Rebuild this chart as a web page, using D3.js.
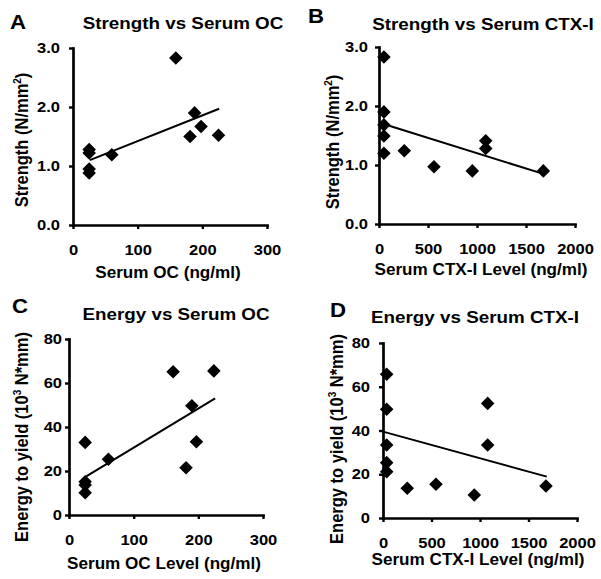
<!DOCTYPE html>
<html>
<head>
<meta charset="utf-8">
<script src="https://cdn.jsdelivr.net/npm/d3@7"></script>
<style>
  body { margin: 0; background: #fff; }
  svg text { font-family: "Liberation Sans", Arial, sans-serif; font-weight: bold; fill: #000; }
</style>
</head>
<body>
<svg id="chart" width="601" height="579"></svg>
<script>
// Panel A: strength vs serum OC
const ocA = [25, 25, 25, 25, 60, 159, 181, 188, 198, 225];
const strengthA = [1.28, 1.22, 0.95, 0.88, 1.19, 2.83, 1.50, 1.90, 1.67, 1.52];
const trendXA = [26, 226];
const trendYA = [1.10, 1.97];

// Panel B: strength vs serum CTX-I
const ctxB = [50, 50, 50, 50, 50, 258, 561, 952, 1089, 1089, 1677];
const strengthB = [2.83, 1.90, 1.68, 1.49, 1.20, 1.24, 0.97, 0.90, 1.41, 1.28, 0.90];
const trendXB = [55, 1677];
const trendYB = [1.69, 0.85];

// Panel C: energy vs serum OC
const ocC = [25, 25, 25, 25, 61, 161, 181, 190, 197, 224];
const energyC = [33.0, 15.1, 13.6, 10.1, 25.3, 65.1, 21.5, 49.7, 33.3, 65.5];
const trendXC = [26, 226];
const trendYC = [17.4, 53.0];

// Panel D: energy vs serum CTX-I
const ctxD = [38, 38, 38, 38, 38, 250, 546, 941, 1079, 1079, 1680];
const energyD = [65.7, 49.7, 33.4, 25.3, 21.2, 13.6, 15.4, 10.5, 52.4, 33.4, 14.6];
const trendXD = [0, 1688];
const trendYD = [39.5, 18.9];

// tick labels
const ocTicks = [0, 100, 200, 300];
const ctxTicks = [0, 500, 1000, 1500, 2000];
const strengthTicks = [0, 1, 2, 3];
const energyTicks = [0, 20, 40, 60, 80];

const svg = d3.select('#chart');
const SX = 1.14; // the figure's text looks slightly wide

const panels = [
    { letter: 'A', title: 'Strength vs Serum OC', xLabel: 'Serum OC (ng/ml)', yLabel: 'strength',
      xs: ocA, ys: strengthA, tx: trendXA, ty: trendYA,
      xDom: [0, 300], yDom: [0, 3], xTicks: ocTicks, yTicks: strengthTicks, yFmt: d3.format('.1f'),
      xr: [73, 267], yr: [225, 48], pad: 9,
      letterPos: [10, 29], titlePos: [183, 29], xLabelPos: [168, 278], yLabelPos: [28, 140] },
    { letter: 'B', title: 'Strength vs Serum CTX-I', xLabel: 'Serum CTX-I Level (ng/ml)', yLabel: 'strength',
      xs: ctxB, ys: strengthB, tx: trendXB, ty: trendYB,
      xDom: [0, 2000], yDom: [0, 3], xTicks: ctxTicks, yTicks: strengthTicks, yFmt: d3.format('.1f'),
      xr: [379, 575], yr: [224, 47], pad: 7,
      letterPos: [308, 23], titlePos: [483, 29.5], xLabelPos: [481, 275], yLabelPos: [339, 142] },
    { letter: 'C', title: 'Energy vs Serum OC', xLabel: 'Serum OC Level (ng/ml)', yLabel: 'energy',
      xs: ocC, ys: energyC, tx: trendXC, ty: trendYC,
      xDom: [0, 300], yDom: [0, 80], xTicks: ocTicks, yTicks: energyTicks, yFmt: d3.format('d'),
      xr: [69, 263], yr: [515, 339], pad: 3,
      letterPos: [12, 313], titlePos: [176, 320], xLabelPos: [164, 569], yLabelPos: [28, 437] },
    { letter: 'D', title: 'Energy vs Serum CTX-I', xLabel: 'Serum CTX-I Level (ng/ml)', yLabel: 'energy',
      xs: ctxD, ys: energyD, tx: trendXD, ty: trendYD,
      xDom: [0, 2000], yDom: [0, 80], xTicks: ctxTicks, yTicks: energyTicks, yFmt: d3.format('d'),
      xr: [383, 577], yr: [518, 343], pad: 9,
      letterPos: [330, 317], titlePos: [475, 323], xLabelPos: [478, 565], yLabelPos: [343, 439] }
];

function stretchText(sel, size) {
    sel.each(function() {
        const t = d3.select(this);
        const x = +t.attr('x') || 0;
        const y = +t.attr('y') || 0;
        t.attr('x', null).attr('y', null)
            .attr('transform', `translate(${x},${y}) scale(${SX},1)`)
            .attr('font-size', size);
    });
}

function addText(x, y, str, size, anchor) {
    return svg.append('text')
        .attr('transform', `translate(${x},${y}) scale(${SX},1)`)
        .attr('text-anchor', anchor)
        .attr('font-size', size)
        .text(str);
}

const diamond = d3.symbol().type(d3.symbolSquare).size(92);

panels.forEach(p => {
    const x = d3.scaleLinear().domain(p.xDom).range(p.xr);
    const y = d3.scaleLinear().domain(p.yDom).range(p.yr);

    // x axis
    const gx = svg.append('g')
        .attr('transform', `translate(0,${p.yr[0]})`)
        .call(d3.axisBottom(x).tickValues(p.xTicks).tickFormat(d3.format('d'))
            .tickSize(4).tickSizeOuter(0).tickPadding(16));
    gx.selectAll('.tick text').attr('fill', '#000').each(function() {
        d3.select(this).attr('x', 0).attr('y', 19.5).attr('dy', '0.71em');
    });
    stretchText(gx.selectAll('.tick text'), 14.5);

    // y axis
    const gy = svg.append('g')
        .attr('transform', `translate(${p.xr[0]},0)`)
        .call(d3.axisLeft(y).tickValues(p.yTicks).tickFormat(p.yFmt).tickSize(4).tickSizeOuter(0).tickPadding(p.pad));
    gy.selectAll('.tick text').attr('fill', '#000');
    stretchText(gy.selectAll('.tick text').attr('x', -(4 + p.pad)), 14.5);

    [gx, gy].forEach(g => {
        g.attr('font-family', null);
        g.select('.domain').attr('stroke', '#000').attr('stroke-width', 2.7).attr('stroke-linecap', 'square');
        g.selectAll('.tick line').attr('stroke', '#000').attr('stroke-width', 2.4);
    });

    // trend line
    svg.append('line')
        .attr('x1', x(p.tx[0])).attr('y1', y(p.ty[0]))
        .attr('x2', x(p.tx[1])).attr('y2', y(p.ty[1]))
        .attr('stroke', '#000')
        .attr('stroke-width', 2);

    // points
    svg.append('g').selectAll('path')
        .data(p.xs.map((v, i) => [v, p.ys[i]]))
        .join('path')
        .attr('d', diamond)
        .attr('transform', d => `translate(${x(d[0])},${y(d[1])}) rotate(45)`)
        .attr('fill', '#000');

    // texts
    addText(p.letterPos[0], p.letterPos[1], p.letter, 19.5, 'start');
    addText(p.titlePos[0], p.titlePos[1], p.title, 16.5, 'middle');
    svg.append('text')
        .attr('transform', `translate(${p.xLabelPos[0]},${p.xLabelPos[1]}) scale(1.05,1)`)
        .attr('text-anchor', 'middle')
        .attr('font-size', 16.3)
        .text(p.xLabel);

    const yl = svg.append('text')
        .attr('transform', `translate(${p.yLabelPos[0]},${p.yLabelPos[1]}) rotate(-90) scale(1,1.1)`)
        .attr('text-anchor', 'middle')
        .attr('font-size', 16.5);
    if (p.yLabel === 'strength') {
        yl.append('tspan').text('Strength (N/mm');
        yl.append('tspan').attr('font-size', 10).attr('dy', -6).text('2');
        yl.append('tspan').attr('dy', 6).text(')');
    } else {
        yl.append('tspan').text('Energy to yield (10');
        yl.append('tspan').attr('font-size', 10).attr('dy', -6).text('3');
        yl.append('tspan').attr('dy', 6).text(' N*mm)');
    }
});
</script>
</body>
</html>
